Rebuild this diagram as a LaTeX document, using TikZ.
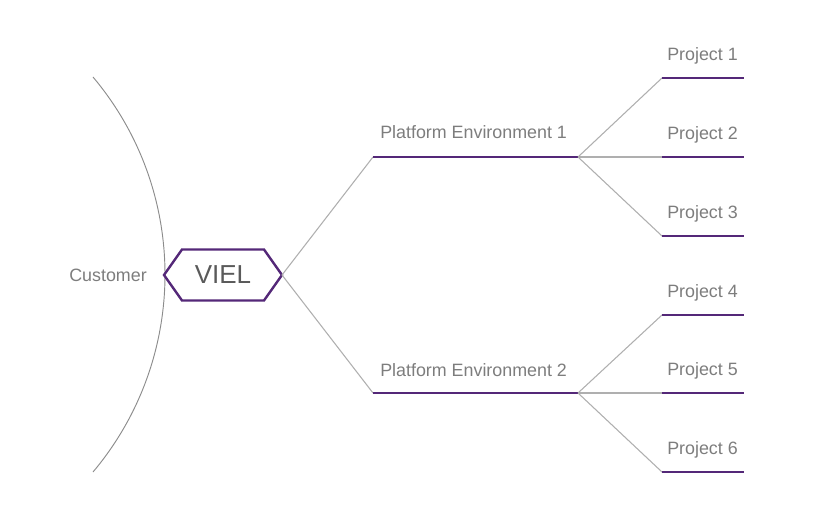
\documentclass[tikz,border=0pt]{standalone}
\usepackage{fontspec}
\setmainfont{Liberation Sans}
\definecolor{vpurple}{RGB}{84,40,120}
\definecolor{vtext}{RGB}{125,125,125}
\definecolor{vdark}{RGB}{90,90,90}
\definecolor{vconn}{RGB}{175,175,175}
\definecolor{varc}{RGB}{140,140,140}
\begin{document}
\begin{tikzpicture}[x=0.75pt,y=-0.75pt,
  conn/.style={draw=vconn, line width=0.8pt},
  bar/.style={draw=vpurple, line width=1.8pt},
  lbl/.style={text=vtext, font=\fontsize{13.4}{16}\selectfont, inner sep=0pt, anchor=base west},
  hexbox/.style={draw=vpurple, line width=1.8pt, line join=miter}]
\useasboundingbox (0,0) rectangle (815,520);
% customer arc
\draw[draw=varc, line width=0.7pt] (93,77) arc[start angle=-40.06, end angle=40.06, radius=306.9];
\node[text=vtext, font=\fontsize{13.4}{16}\selectfont, inner sep=0pt] (cust) at (108,275) {Customer};
% hexagon
\node[text=vdark, font=\fontsize{19.5}{22}\selectfont, inner sep=0pt] (viel) at (223,275) {VIEL};
\coordinate (hexE) at (282,275);
\draw[hexbox] (164,275) -- (182,249.5) -- (264,249.5) -- (hexE) -- (264,300.5) -- (182,300.5) -- cycle;
% platform environments
\coordinate (pe1a) at (373,157); \coordinate (pe1b) at (578,157);
\coordinate (pe2a) at (373,393); \coordinate (pe2b) at (578,393);
\draw[conn] (hexE) -- (pe1a);
\draw[conn] (hexE) -- (pe2a);
\draw[bar] (pe1a) -- (pe1b);
\draw[bar] (pe2a) -- (pe2b);
\node[lbl] (pe1) at (380,139) {Platform Environment 1};
\node[lbl] (pe2) at (380,377) {Platform Environment 2};
% projects
\foreach \i/\y/\s in {1/78/pe1b,2/157/pe1b,3/236/pe1b,4/315/pe2b,5/393/pe2b,6/472/pe2b}{
  \coordinate (pr\i a) at (662,\y);
  \coordinate (pr\i b) at (744,\y);
  \draw[conn] (\s) -- (pr\i a);
  \draw[bar] (pr\i a) -- (pr\i b);
  \node[lbl] (prj\i) at (667,\y-17) {Project \i};
}
\end{tikzpicture}
\end{document}
